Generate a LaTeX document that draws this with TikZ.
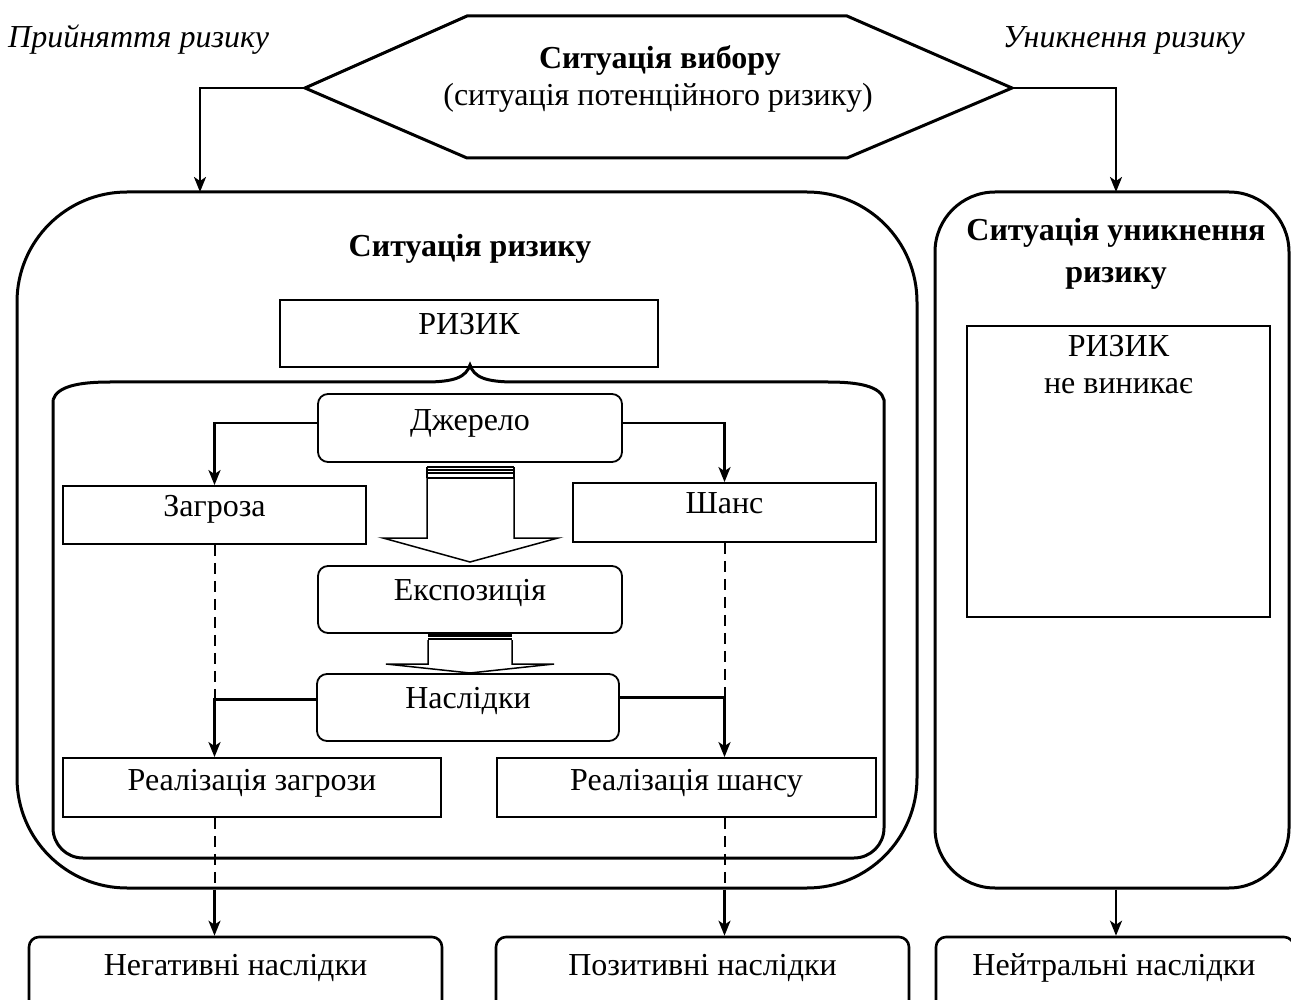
\documentclass[tikz,border=0pt]{standalone}
\usepackage{fontspec}
\setmainfont{Liberation Serif}
\usetikzlibrary{arrows.meta,calc}

\begin{document}
\begin{tikzpicture}[x=1pt,y=-1pt,
  font=\fontsize{32}{37}\selectfont,
  heavy/.style={line width=3pt},
  plainbox/.style={draw, line width=1.8pt, inner sep=0pt},
  softbox/.style={plainbox, rounded corners=10pt},
  conn/.style={line width=2.4pt, -{Stealth[length=15pt,width=12pt,inset=4pt]}},
  dashline/.style={line width=2pt, dash pattern=on 11pt off 7pt},
  lbl/.style={anchor=base, inner sep=0pt},
  hollowarrow/.style={line width=1.5pt, line join=miter},
]
\useasboundingbox (0,0) rectangle (1291,1000);
\clip (0,0) rectangle (1291,1000);

% side captions
\node[lbl, anchor=base west] (tAccept) at (8,48) {\itshape Прийняття ризику};
\node[lbl, anchor=base east] (tAvoid) at (1245,48) {\itshape Уникнення ризику};

% choice situation (hexagon)
\coordinate (hexL) at (305,88);
\coordinate (hexR) at (1012,88);
\draw[heavy] (hexL) -- (467,16) -- (847,16) -- (hexR) -- (847,158) -- (467,158) -- cycle;
\node[lbl] (tChoice) at (660,69) {\bfseries Ситуація вибору};
\node[lbl] (tChoiceSub) at (658,106) {(ситуація потенційного ризику)};

% risk situation (outer frame)
\node[draw, heavy, rounded corners=110pt, minimum width=900pt, minimum height=696pt] (riskbox) at (467,540) {};
\node[lbl] (tRisk) at (470,257) {\bfseries Ситуація ризику};

% risk avoidance situation
\node[draw, heavy, rounded corners=60pt, minimum width=354pt, minimum height=696pt] (avoidbox) at (1112,540) {};
\node[lbl] (tAvoidA) at (1116,241) {\bfseries Ситуація уникнення};
\node[lbl] (tAvoidB) at (1116,283) {\bfseries ризику};
\node[plainbox, minimum width=303pt, minimum height=291pt] (norisk) at (1118.5,471.5) {};
\node[lbl] (tNoRiskA) at (1118.5,357) {РИЗИК};
\node[lbl] (tNoRiskB) at (1118.5,393) {не виникає};

% connectors from the hexagon
\coordinate (riskIn) at (200,192);
\coordinate (avoidIn) at (1116,192);
\draw[conn] (hexL) -| (riskIn);
\draw[conn] (hexR) -| (avoidIn);

% risk box and the brace below it
\node[plainbox, minimum width=378pt, minimum height=67pt] (risk) at (469,333.5) {};
\node[lbl] (tRiskWord) at (469,335) {РИЗИК};
\draw[heavy] (53,400) .. controls (57,386) and (80,382) .. (110,382) -- (425,382)
  .. controls (455,382) and (466,377) .. (470,365)
  .. controls (474,377) and (485,382) .. (515,382) -- (828,382)
  .. controls (858,382) and (881,386) .. (884,400)
  [rounded corners=30pt] -- (884,858) -- (53,858) [sharp corners] -- (53,400);

% source, exposure, consequences
\node[softbox, minimum width=304pt, minimum height=68pt] (src) at (470,428) {};
\node[lbl] (tSrc) at (470,430) {Джерело};
\node[softbox, minimum width=304pt, minimum height=67pt] (expo) at (470,599.5) {};
\node[lbl] (tExpo) at (470,600) {Експозиція};
\node[softbox, minimum width=302pt, minimum height=67pt] (cons) at (468,707.5) {};
\node[lbl] (tCons) at (468,708) {Наслідки};

% threat and chance
\node[plainbox, minimum width=303pt, minimum height=58pt] (threat) at (214.5,515) {};
\node[lbl] (tThreat) at (214.5,516) {Загроза};
\node[plainbox, minimum width=303pt, minimum height=59pt] (chance) at (724.5,512.5) {};
\node[lbl] (tChance) at (724.5,513) {Шанс};

% realisations
\node[plainbox, minimum width=378pt, minimum height=59pt] (rthreat) at (252,787.5) {};
\node[lbl] (tRThreat) at (252,790) {Реалізація загрози};
\node[plainbox, minimum width=379pt, minimum height=59pt] (rchance) at (686.5,787.5) {};
\node[lbl] (tRChance) at (686.5,790) {Реалізація шансу};

% outcomes
\node[draw, line width=2.6pt, rounded corners=10pt, minimum width=413pt, minimum height=80pt] (neg) at (235.5,977) {};
\node[lbl] (tNeg) at (235.5,975) {Негативні наслідки};
\node[draw, line width=2.6pt, rounded corners=10pt, minimum width=413pt, minimum height=80pt] (pos) at (702.5,977) {};
\node[lbl] (tPos) at (702.5,975) {Позитивні наслідки};
\node[draw, line width=2.6pt, rounded corners=10pt, minimum width=358pt, minimum height=80pt] (neu) at (1115,977) {};
\node[lbl] (tNeu) at (1114,975) {Нейтральні наслідки};

% hollow arrow: source -> exposure
\draw[hollowarrow] (427,473) -- (427,538) -- (383,538) -- (470,562) -- (558,538) -- (514,538) -- (514,473);
\draw[line width=1.2pt] (427,467) -- (514,467) (427,470) -- (514,470) (427,473) -- (514,473) (427,478) -- (514,478);
\draw[line width=1.2pt] (427,467) -- (427,478) (514,467) -- (514,478);

% hollow arrow: exposure -> consequences
\fill (428,633) rectangle (512,636.5);
\fill (428,637.5) rectangle (512,640);
\draw[hollowarrow] (428,640) -- (428,664) -- (386,664) -- (470,673) -- (554,664) -- (512,664) -- (512,640);

% branches from the source
\draw[conn] ([yshift=5pt]src.west) -| (threat.north);
\draw[conn] ([yshift=5pt]src.east) -| (chance.north);

% branches from the consequences
\draw[conn] ([yshift=8pt]cons.west) -| (threat.south |- rthreat.north);
\draw[conn] ([yshift=10pt]cons.east) -| (chance.south |- rchance.north);

% dashed links threat/chance -> realisations -> frame
\draw[dashline] (threat.south) -- ([yshift=8pt]threat.south |- cons.west);
\draw[dashline] (chance.south) -- ([yshift=10pt]chance.south |- cons.east);
\draw[dashline] (threat.south |- rthreat.south) -- (threat.south |- riskbox.south);
\draw[dashline] (chance.south |- rchance.south) -- (chance.south |- riskbox.south);

% outcome arrows
\draw[conn] (threat.south |- riskbox.south) -- (threat.south |- neg.north);
\draw[conn] (chance.south |- riskbox.south) -- (chance.south |- pos.north);
\draw[conn] (avoidIn |- avoidbox.south) -- (avoidIn |- neu.north);
\end{tikzpicture}
\end{document}
